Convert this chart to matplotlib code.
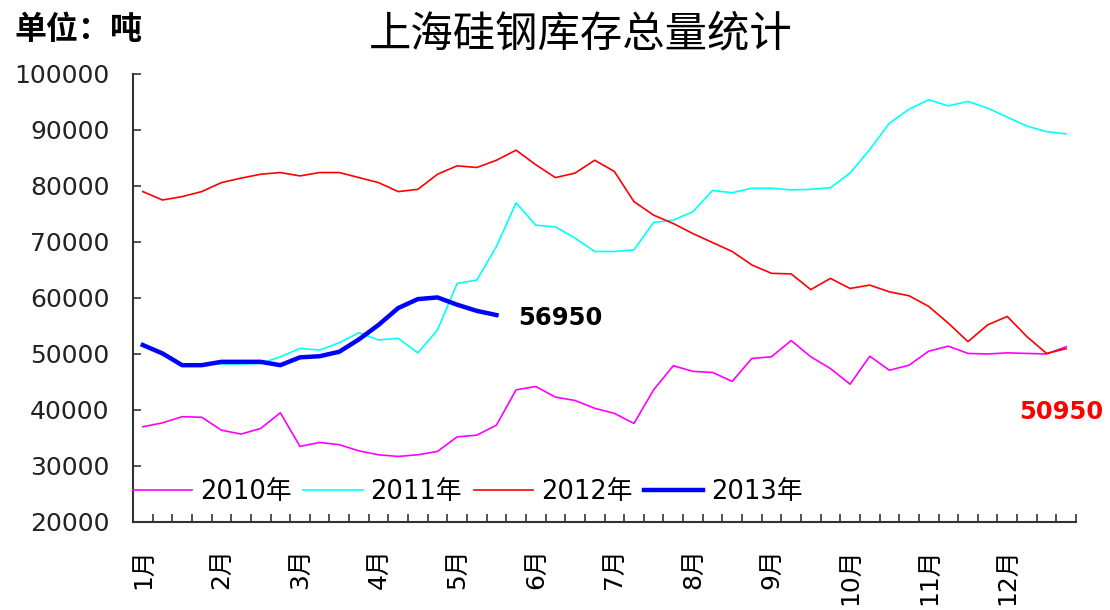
import numpy as np
import matplotlib
matplotlib.use('Agg')
import matplotlib.pyplot as plt

plt.rcParams['font.family'] = ['DejaVu Sans', 'Noto Sans CJK SC']

# weekly stock, tonnes (48 weeks per year)
s2010 = [37000, 37700, 38800, 38700, 36400, 35700, 36700, 39500, 33500, 34200,
         33800, 32700, 32000, 31700, 32000, 32600, 35200, 35500, 37300, 43600,
         44200, 42300, 41700, 40300, 39400, 37600, 43600, 47900, 46900, 46700,
         45100, 49200, 49500, 52400, 49500, 47400, 44600, 49600, 47100, 48000,
         50500, 51400, 50100, 50000, 50200, 50100, 50000, 51300]
s2011 = [51500, 50000, 48200, 48200, 48200, 48200, 48300, 49500, 51000, 50700,
         52000, 53800, 52500, 52800, 50200, 54300, 62600, 63200, 69200, 77000,
         73000, 72700, 70700, 68300, 68300, 68600, 73500, 73900, 75400, 79200,
         78800, 79600, 79600, 79300, 79400, 79700, 82300, 86500, 91200, 93700,
         95400, 94300, 95100, 93900, 92300, 90700, 89700, 89300]
s2012 = [79000, 77500, 78100, 79000, 80600, 81400, 82100, 82400, 81800, 82400,
         82400, 81500, 80600, 79000, 79400, 82100, 83600, 83300, 84600, 86400,
         83800, 81500, 82300, 84600, 82600, 77200, 74800, 73300, 71500, 69900,
         68300, 65900, 64400, 64300, 61500, 63500, 61700, 62300, 61100, 60400,
         58500, 55500, 52200, 55200, 56700, 53100, 50100, 50950]
s2013 = [51600, 50100, 48000, 48000, 48600, 48600, 48600, 48000, 49400, 49600,
         50400, 52600, 55200, 58200, 59800, 60100, 58800, 57700, 56950]

months = ['1月', '2月', '3月', '4月', '5月', '6月', '7月', '8月', '9月', '10月', '11月', '12月']
yticks = list(range(20000, 100001, 10000))

fig = plt.figure(figsize=(11.1, 6.1), dpi=100)
ax = fig.add_axes([0.1198, 0.1443, 0.8496, 0.7344])

ax.plot(np.arange(len(s2010)), s2010, color='#ff00ff', lw=1.2, label='2010年')
ax.plot(np.arange(len(s2011)), s2011, color='#00ffff', lw=1.2, label='2011年')
ax.plot(np.arange(len(s2012)), s2012, color='#ff0000', lw=1.2, label='2012年')
ax.plot(np.arange(len(s2013)), s2013, color='#0000ff', lw=3.2, label='2013年')

ax.set_xlim(-0.5, len(s2010) - 0.5)
ax.set_ylim(20000, 100000)
ax.set_yticks(yticks)
ax.set_yticklabels([str(v) for v in yticks], fontsize=18, color='#222222')

ax.set_xticks(np.arange(0, 48, 4))
ax.set_xticklabels(months, rotation=90, va='top', ha='center', fontsize=18)
ax.set_xticks(np.arange(-0.5, 48, 1), minor=True)
ax.tick_params(axis='x', which='major', length=0, pad=19)
ax.tick_params(axis='x', which='minor', direction='in', length=6, width=1.2, color='#333333')
ax.tick_params(axis='y', direction='in', length=6, width=1.2, color='#333333', pad=17)

for sp in ['top', 'right']:
    ax.spines[sp].set_visible(False)
for sp in ['left', 'bottom']:
    ax.spines[sp].set_linewidth(1.5)
    ax.spines[sp].set_color('#333333')

ax.legend(loc='center left', bbox_to_anchor=(0.0, 0.067), ncol=4, frameon=False,
          fontsize=18.5, handlelength=2.3, handletextpad=0.3, columnspacing=0.47,
          borderpad=0, borderaxespad=0)

# end-value labels
ax.text(len(s2013) - 1 + 1.1, s2013[-1] - 500, f'{s2013[-1]}', fontsize=17.5,
        fontweight='bold', color='black', ha='left', va='center')
ax.text(44.6, 39700, f'{s2012[-1]}', fontsize=17.5, fontweight='bold',
        color='#ff0000', ha='left', va='center')

fig.text(0.5234, 0.944, '上海硅钢库存总量统计', fontsize=30.5, ha='center', va='center',
         family='Noto Sans CJK SC')
fig.text(0.013, 0.951, '单位：吨', fontsize=23, fontweight='bold', ha='left',
         va='center', family='Noto Sans CJK SC')

fig.savefig('out.png', dpi=100, facecolor='white')
